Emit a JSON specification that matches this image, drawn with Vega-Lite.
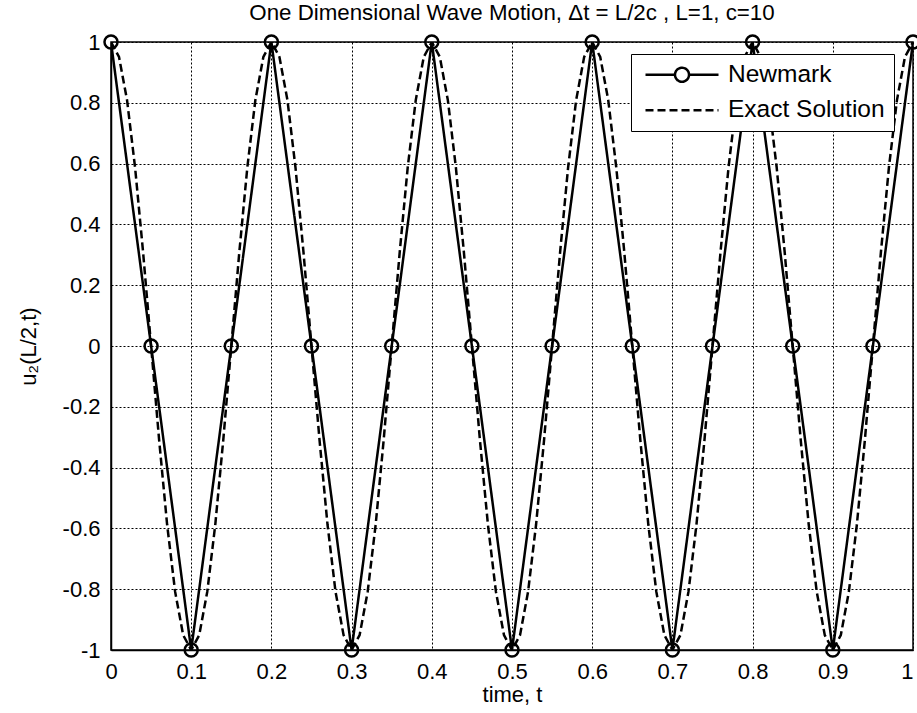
{
  "$schema": "https://vega.github.io/schema/vega-lite/v6.json",
  "autosize": "none",
  "width": 802,
  "height": 608,
  "padding": {"left": 111, "top": 42, "right": 4, "bottom": 63},
  "background": "white",
  "config": {
    "font": "Liberation Sans",
    "view": {"stroke": "black", "strokeWidth": 1.5},
    "axis": {
      "domainColor": "black",
      "domainWidth": 1.5,
      "ticks": false,
      "grid": true,
      "gridColor": "black",
      "gridOpacity": 1,
      "gridWidth": 1,
      "gridDash": [2, 2],
      "labelColor": "black",
      "labelFont": "Liberation Sans",
      "labelFontSize": 22,
      "titleColor": "black",
      "titleFont": "Liberation Sans",
      "titleFontSize": 22,
      "titleFontWeight": "normal"
    },
    "title": {"font": "Liberation Sans", "fontSize": 22.3, "fontWeight": "normal", "color": "black", "offset": 6}
  },
  "title": "One Dimensional Wave Motion, Δt = L/2c , L=1, c=10",
  "datasets": {
    "newmark": [
      {"t": 0, "u": 1, "series": "Newmark"},
      {"t": 0.05, "u": 0, "series": "Newmark"},
      {"t": 0.1, "u": -1, "series": "Newmark"},
      {"t": 0.15, "u": 0, "series": "Newmark"},
      {"t": 0.2, "u": 1, "series": "Newmark"},
      {"t": 0.25, "u": 0, "series": "Newmark"},
      {"t": 0.3, "u": -1, "series": "Newmark"},
      {"t": 0.35, "u": 0, "series": "Newmark"},
      {"t": 0.4, "u": 1, "series": "Newmark"},
      {"t": 0.45, "u": 0, "series": "Newmark"},
      {"t": 0.5, "u": -1, "series": "Newmark"},
      {"t": 0.55, "u": 0, "series": "Newmark"},
      {"t": 0.6, "u": 1, "series": "Newmark"},
      {"t": 0.65, "u": 0, "series": "Newmark"},
      {"t": 0.7, "u": -1, "series": "Newmark"},
      {"t": 0.75, "u": 0, "series": "Newmark"},
      {"t": 0.8, "u": 1, "series": "Newmark"},
      {"t": 0.85, "u": 0, "series": "Newmark"},
      {"t": 0.9, "u": -1, "series": "Newmark"},
      {"t": 0.95, "u": 0, "series": "Newmark"},
      {"t": 1, "u": 1, "series": "Newmark"}
    ],
    "exact": [
      {"t": 0.00, "u": 1, "series": "Exact Solution"},
      {"t": 0.01, "u": 0.951, "series": "Exact Solution"},
      {"t": 0.02, "u": 0.809, "series": "Exact Solution"},
      {"t": 0.03, "u": 0.588, "series": "Exact Solution"},
      {"t": 0.04, "u": 0.309, "series": "Exact Solution"},
      {"t": 0.05, "u": 0, "series": "Exact Solution"},
      {"t": 0.06, "u": -0.309, "series": "Exact Solution"},
      {"t": 0.07, "u": -0.588, "series": "Exact Solution"},
      {"t": 0.08, "u": -0.809, "series": "Exact Solution"},
      {"t": 0.09, "u": -0.951, "series": "Exact Solution"},
      {"t": 0.10, "u": -1, "series": "Exact Solution"},
      {"t": 0.11, "u": -0.951, "series": "Exact Solution"},
      {"t": 0.12, "u": -0.809, "series": "Exact Solution"},
      {"t": 0.13, "u": -0.588, "series": "Exact Solution"},
      {"t": 0.14, "u": -0.309, "series": "Exact Solution"},
      {"t": 0.15, "u": 0, "series": "Exact Solution"},
      {"t": 0.16, "u": 0.309, "series": "Exact Solution"},
      {"t": 0.17, "u": 0.588, "series": "Exact Solution"},
      {"t": 0.18, "u": 0.809, "series": "Exact Solution"},
      {"t": 0.19, "u": 0.951, "series": "Exact Solution"},
      {"t": 0.20, "u": 1, "series": "Exact Solution"},
      {"t": 0.21, "u": 0.951, "series": "Exact Solution"},
      {"t": 0.22, "u": 0.809, "series": "Exact Solution"},
      {"t": 0.23, "u": 0.588, "series": "Exact Solution"},
      {"t": 0.24, "u": 0.309, "series": "Exact Solution"},
      {"t": 0.25, "u": 0, "series": "Exact Solution"},
      {"t": 0.26, "u": -0.309, "series": "Exact Solution"},
      {"t": 0.27, "u": -0.588, "series": "Exact Solution"},
      {"t": 0.28, "u": -0.809, "series": "Exact Solution"},
      {"t": 0.29, "u": -0.951, "series": "Exact Solution"},
      {"t": 0.30, "u": -1, "series": "Exact Solution"},
      {"t": 0.31, "u": -0.951, "series": "Exact Solution"},
      {"t": 0.32, "u": -0.809, "series": "Exact Solution"},
      {"t": 0.33, "u": -0.588, "series": "Exact Solution"},
      {"t": 0.34, "u": -0.309, "series": "Exact Solution"},
      {"t": 0.35, "u": 0, "series": "Exact Solution"},
      {"t": 0.36, "u": 0.309, "series": "Exact Solution"},
      {"t": 0.37, "u": 0.588, "series": "Exact Solution"},
      {"t": 0.38, "u": 0.809, "series": "Exact Solution"},
      {"t": 0.39, "u": 0.951, "series": "Exact Solution"},
      {"t": 0.40, "u": 1, "series": "Exact Solution"},
      {"t": 0.41, "u": 0.951, "series": "Exact Solution"},
      {"t": 0.42, "u": 0.809, "series": "Exact Solution"},
      {"t": 0.43, "u": 0.588, "series": "Exact Solution"},
      {"t": 0.44, "u": 0.309, "series": "Exact Solution"},
      {"t": 0.45, "u": 0, "series": "Exact Solution"},
      {"t": 0.46, "u": -0.309, "series": "Exact Solution"},
      {"t": 0.47, "u": -0.588, "series": "Exact Solution"},
      {"t": 0.48, "u": -0.809, "series": "Exact Solution"},
      {"t": 0.49, "u": -0.951, "series": "Exact Solution"},
      {"t": 0.50, "u": -1, "series": "Exact Solution"},
      {"t": 0.51, "u": -0.951, "series": "Exact Solution"},
      {"t": 0.52, "u": -0.809, "series": "Exact Solution"},
      {"t": 0.53, "u": -0.588, "series": "Exact Solution"},
      {"t": 0.54, "u": -0.309, "series": "Exact Solution"},
      {"t": 0.55, "u": 0, "series": "Exact Solution"},
      {"t": 0.56, "u": 0.309, "series": "Exact Solution"},
      {"t": 0.57, "u": 0.588, "series": "Exact Solution"},
      {"t": 0.58, "u": 0.809, "series": "Exact Solution"},
      {"t": 0.59, "u": 0.951, "series": "Exact Solution"},
      {"t": 0.60, "u": 1, "series": "Exact Solution"},
      {"t": 0.61, "u": 0.951, "series": "Exact Solution"},
      {"t": 0.62, "u": 0.809, "series": "Exact Solution"},
      {"t": 0.63, "u": 0.588, "series": "Exact Solution"},
      {"t": 0.64, "u": 0.309, "series": "Exact Solution"},
      {"t": 0.65, "u": 0, "series": "Exact Solution"},
      {"t": 0.66, "u": -0.309, "series": "Exact Solution"},
      {"t": 0.67, "u": -0.588, "series": "Exact Solution"},
      {"t": 0.68, "u": -0.809, "series": "Exact Solution"},
      {"t": 0.69, "u": -0.951, "series": "Exact Solution"},
      {"t": 0.70, "u": -1, "series": "Exact Solution"},
      {"t": 0.71, "u": -0.951, "series": "Exact Solution"},
      {"t": 0.72, "u": -0.809, "series": "Exact Solution"},
      {"t": 0.73, "u": -0.588, "series": "Exact Solution"},
      {"t": 0.74, "u": -0.309, "series": "Exact Solution"},
      {"t": 0.75, "u": 0, "series": "Exact Solution"},
      {"t": 0.76, "u": 0.309, "series": "Exact Solution"},
      {"t": 0.77, "u": 0.588, "series": "Exact Solution"},
      {"t": 0.78, "u": 0.809, "series": "Exact Solution"},
      {"t": 0.79, "u": 0.951, "series": "Exact Solution"},
      {"t": 0.80, "u": 1, "series": "Exact Solution"},
      {"t": 0.81, "u": 0.951, "series": "Exact Solution"},
      {"t": 0.82, "u": 0.809, "series": "Exact Solution"},
      {"t": 0.83, "u": 0.588, "series": "Exact Solution"},
      {"t": 0.84, "u": 0.309, "series": "Exact Solution"},
      {"t": 0.85, "u": 0, "series": "Exact Solution"},
      {"t": 0.86, "u": -0.309, "series": "Exact Solution"},
      {"t": 0.87, "u": -0.588, "series": "Exact Solution"},
      {"t": 0.88, "u": -0.809, "series": "Exact Solution"},
      {"t": 0.89, "u": -0.951, "series": "Exact Solution"},
      {"t": 0.90, "u": -1, "series": "Exact Solution"},
      {"t": 0.91, "u": -0.951, "series": "Exact Solution"},
      {"t": 0.92, "u": -0.809, "series": "Exact Solution"},
      {"t": 0.93, "u": -0.588, "series": "Exact Solution"},
      {"t": 0.94, "u": -0.309, "series": "Exact Solution"},
      {"t": 0.95, "u": 0, "series": "Exact Solution"},
      {"t": 0.96, "u": 0.309, "series": "Exact Solution"},
      {"t": 0.97, "u": 0.588, "series": "Exact Solution"},
      {"t": 0.98, "u": 0.809, "series": "Exact Solution"},
      {"t": 0.99, "u": 0.951, "series": "Exact Solution"},
      {"t": 1.00, "u": 1, "series": "Exact Solution"}
    ]
  },
  "encoding": {
    "x": {
      "field": "t", "type": "quantitative",
      "scale": {"domain": [0, 1], "nice": false},
      "axis": {
        "title": "time, t",
        "values": [0, 0.1, 0.2, 0.3, 0.4, 0.5, 0.6, 0.7, 0.8, 0.9, 1],
        "labelExpr": "toString(datum.value)",
        "labelAlign": {"condition": {"test": "datum.value === 1", "value": "right"}, "value": "center"},
        "labelPadding": 11,
        "titlePadding": 2,
        "labelFlush": false
      }
    },
    "y": {
      "field": "u", "type": "quantitative",
      "scale": {"domain": [-1, 1], "nice": false},
      "axis": {"title": "u₂(L/2,t)", "values": [-1, -0.8, -0.6, -0.4, -0.2, 0, 0.2, 0.4, 0.6, 0.8, 1], "labelExpr": "toString(datum.value)", "labelPadding": 11, "titlePadding": 22, "labelFlush": false}
    }
  },
  "layer": [
    {
      "data": {"name": "exact"},
      "mark": {"type": "line", "color": "black", "strokeWidth": 2.5, "clip": true},
      "encoding": {
        "strokeDash": {
          "field": "series", "type": "nominal",
          "scale": {"domain": ["Newmark", "Exact Solution"], "range": [[1, 0], [8, 4]]},
          "legend": {
            "title": null,
            "orient": "none",
            "legendX": 520,
            "legendY": 12,
            "fillColor": "white",
            "strokeColor": "black",
            "padding": 8.5,
            "rowPadding": 9.5,
            "symbolType": "stroke",
            "symbolSize": 100,
            "symbolStrokeWidth": 2.5,
            "symbolStrokeColor": "black",
            "symbolFillColor": "transparent",
            "labelFontSize": 24.5,
            "labelOffset": 9,
            "labelColor": "black",
            "encode": {
              "symbols": {
                "update": {
                  "x": {"value": 42.5},
                  "shape": {"signal": "datum.value === 'Newmark' ? 'M-7.3,0L-1.4,0M1.4,0L7.3,0M1.4,0A1.4,1.4,0,1,1,-1.4,0A1.4,1.4,0,1,1,1.4,0' : 'M-7.3,0L7.3,0'"}
                }
              },
              "labels": {
                "update": {
                  "x": {"value": 88.5}
                }
              }
            }
          }
        }
      }
    },
    {
      "data": {"name": "newmark"},
      "mark": {"type": "line", "color": "black", "strokeWidth": 2.5, "clip": true},
      "encoding": {
        "strokeDash": {"field": "series", "type": "nominal"}
      }
    },
    {
      "data": {"name": "newmark"},
      "mark": {"type": "point", "shape": "circle", "filled": false, "color": "black", "strokeWidth": 2.5, "size": 170, "opacity": 1}
    }
  ]
}
